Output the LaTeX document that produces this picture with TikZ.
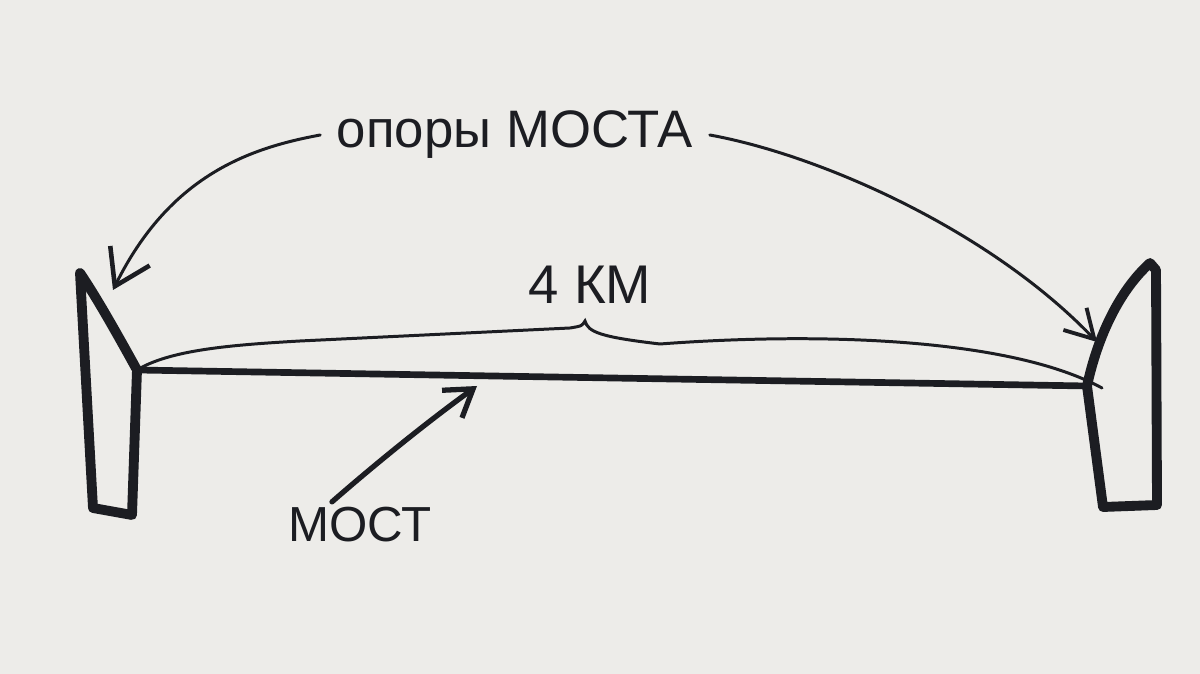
\documentclass[tikz,border=0pt]{standalone}
\usepackage{fontspec}
\setmainfont{Liberation Sans}
\usetikzlibrary{arrows.meta}
\definecolor{board}{RGB}{237,236,233}
\definecolor{ink}{RGB}{28,29,34}

\begin{document}
\begin{tikzpicture}[x=0.01cm, y=-0.01cm,
    pier/.style={draw=ink, line width=2.8pt, line join=round, line cap=round},
    deck/.style={draw=ink, line width=1.9pt, line cap=round},
    thinline/.style={draw=ink, line width=0.85pt, line cap=round},
    pointer/.style={draw=ink, line width=0.85pt, line cap=round, -{Straight Barb[length=3.4mm, width=4.4mm, line width=1.3pt]}},
    label/.style={text=ink, inner sep=0.5mm}]
            \fill[board] (0,0) rectangle (1200,674);
            % piers
            \coordinate (leftdeck) at (137,370);
            \coordinate (rightdeck) at (1087,386);
            \draw[pier] (leftdeck) .. controls (115,330) and (95,295) .. (80,273)
                -- (93,508) -- (132,515) -- (leftdeck);
            \draw[pier] (rightdeck) .. controls (1098,335) and (1120,290) .. (1150,263)
                -- (1156,270) -- (1157,505) -- (1103,507) -- (rightdeck);
            % bridge deck
            \draw[deck] (leftdeck) -- (rightdeck);
            % labels
            \node[label, inner sep=1.6mm, font=\fontsize{15}{18}\selectfont] (supports) at (515,135) {опоры МОСТА};
            \node[label, font=\fontsize{15.5}{18}\selectfont] (span) at (590,285) {4 КМ};
            \node[label, font=\fontsize{14}{17}\selectfont] (bridge) at (360,525) {МОСТ};
            % brace
            \coordinate (bracetip) at (585,321);
            \coordinate (braceend) at (1102,388);
            \draw[thinline] (leftdeck) .. controls (170,350) and (230,345) .. (300,341)
                -- (570,328) .. controls (582,326) .. (bracetip)
                .. controls (588,332) and (600,337) .. (660,344)
                .. controls (820,332) and (1010,338) .. (braceend);
            % arrows
            \coordinate (lefttip) at (113,290);
            \coordinate (righttip) at (1097,342);
            \coordinate (deckmark) at (477,386);
            \draw[pointer] (supports.west) .. controls (250,148) and (170,175) .. (lefttip);
            \draw[pointer, -{Straight Barb[length=2.8mm, width=3.2mm, line width=1.1pt]}] (supports.east) .. controls (820,155) and (990,230) .. (righttip);
            \draw[pointer, line width=1.5pt, -{Straight Barb[length=2.6mm, width=3.4mm]}] ([xshift=-0.28cm]bridge.north) .. controls (380,460) and (430,420) .. (deckmark);
        \end{tikzpicture}
\end{document}
